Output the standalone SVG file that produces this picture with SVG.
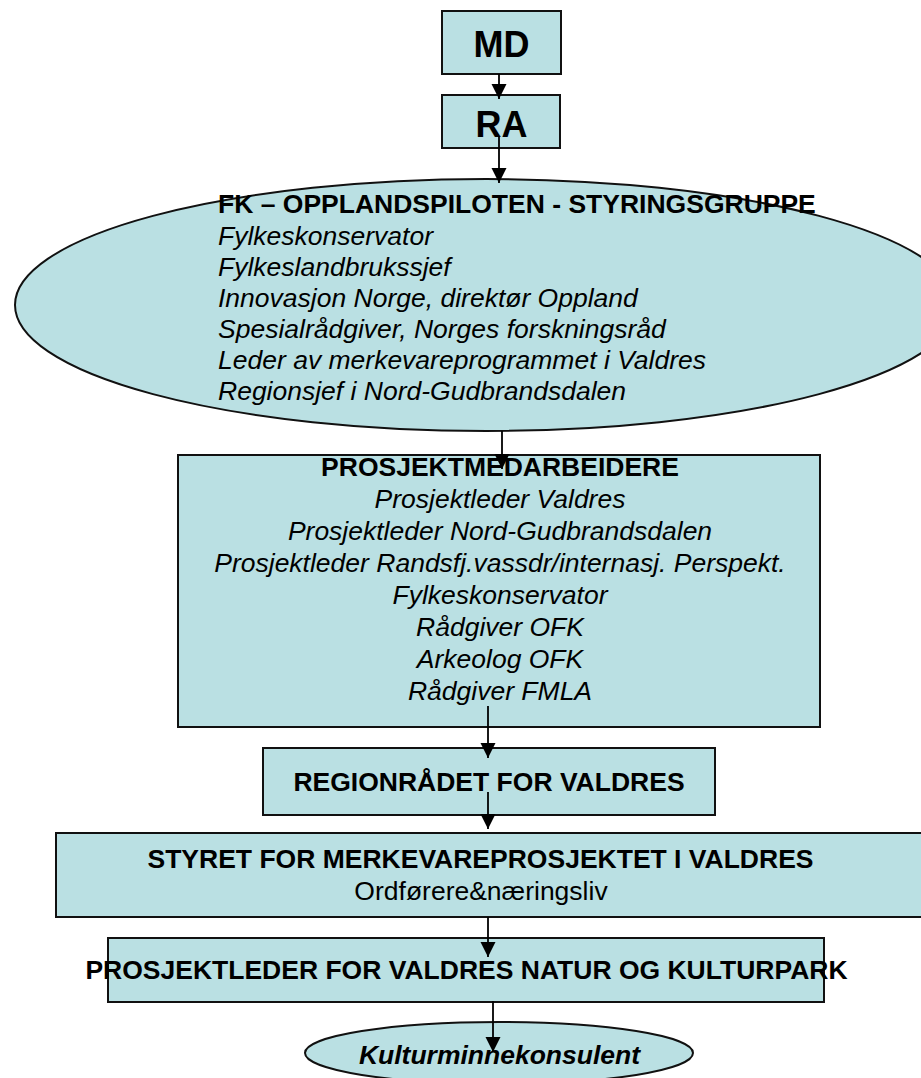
<svg xmlns="http://www.w3.org/2000/svg" width="921" height="1078" viewBox="0 0 921 1078">
<style>
.shape{fill:#bae0e3;stroke:#111;stroke-width:2}
.t{font-family:"Liberation Sans",Arial,sans-serif;font-size:26.5px;fill:#000}
.b{font-weight:bold}
.i{font-style:italic}
.big{font-family:"Liberation Sans",Arial,sans-serif;font-size:36px;font-weight:bold;fill:#000;text-anchor:middle}
.c{text-anchor:middle}
.conn line{stroke:#000;stroke-width:1.8;marker-end:url(#ah)}
</style>
<defs>
<marker id="ah" markerWidth="16" markerHeight="16" refX="15" refY="8" orient="auto" markerUnits="userSpaceOnUse">
<path d="M0,0.5 L15,8 L0,15.5 z" fill="#000"/>
</marker>
</defs>
<rect width="921" height="1078" fill="#fff"/>
<g id="md">
<rect class="shape" x="442" y="11" width="119" height="63"/>
<text class="big" x="501.5" y="57">MD</text>
</g>
<g id="ra">
<rect class="shape" x="442" y="95" width="118" height="53"/>
<text class="big" x="501.5" y="137">RA</text>
</g>
<g id="styringsgruppe">
<ellipse class="shape" cx="486" cy="305" rx="471" ry="126"/>
<text class="t b" x="218" y="213">FK – OPPLANDSPILOTEN - STYRINGSGRUPPE</text>
<text class="t i" x="218" y="245">Fylkeskonservator</text>
<text class="t i" x="218" y="276">Fylkeslandbrukssjef</text>
<text class="t i" x="218" y="307">Innovasjon Norge, direktør Oppland</text>
<text class="t i" x="218" y="338">Spesialrådgiver, Norges forskningsråd</text>
<text class="t i" x="218" y="369">Leder av merkevareprogrammet i Valdres</text>
<text class="t i" x="218" y="400">Regionsjef i Nord-Gudbrandsdalen</text>
</g>
<g id="prosjektmedarbeidere">
<rect class="shape" x="178" y="455" width="642" height="272"/>
<text class="t b c" x="500" y="476">PROSJEKTMEDARBEIDERE</text>
<text class="t i c" x="500" y="508">Prosjektleder Valdres</text>
<text class="t i c" x="500" y="540">Prosjektleder Nord-Gudbrandsdalen</text>
<text class="t i c" x="500" y="572">Prosjektleder Randsfj.vassdr/internasj. Perspekt.</text>
<text class="t i c" x="500" y="604">Fylkeskonservator</text>
<text class="t i c" x="500" y="636">Rådgiver OFK</text>
<text class="t i c" x="500" y="668">Arkeolog OFK</text>
<text class="t i c" x="500" y="700">Rådgiver FMLA</text>
</g>
<g id="regionraadet">
<rect class="shape" x="263" y="748" width="452" height="67"/>
<text class="t b c" x="489" y="791">REGIONRÅDET FOR VALDRES</text>
</g>
<g id="styret">
<rect class="shape" x="56" y="833" width="890" height="84"/>
<text class="t b c" x="480.5" y="868">STYRET FOR MERKEVAREPROSJEKTET I VALDRES</text>
<text class="t c" x="481" y="900">Ordførere&amp;næringsliv</text>
</g>
<g id="prosjektleder">
<rect class="shape" x="108" y="938" width="716" height="64"/>
<text class="t b c" x="466.5" y="979">PROSJEKTLEDER FOR VALDRES NATUR OG KULTURPARK</text>
</g>
<g id="kulturminnekonsulent">
<ellipse class="shape" cx="499" cy="1053" rx="194" ry="31"/>
<text class="t b i c" x="499.5" y="1064">Kulturminnekonsulent</text>
</g>
<g id="connectors" class="conn">
<line x1="499" y1="74" x2="499" y2="99"/>
<line x1="499" y1="137" x2="499" y2="183"/>
<line x1="502" y1="431" x2="502" y2="469"/>
<line x1="488" y1="706" x2="488" y2="758"/>
<line x1="488" y1="792" x2="488" y2="829"/>
<line x1="488" y1="917" x2="488" y2="957"/>
<line x1="493" y1="1001" x2="493" y2="1052"/>
</g>
</svg>
